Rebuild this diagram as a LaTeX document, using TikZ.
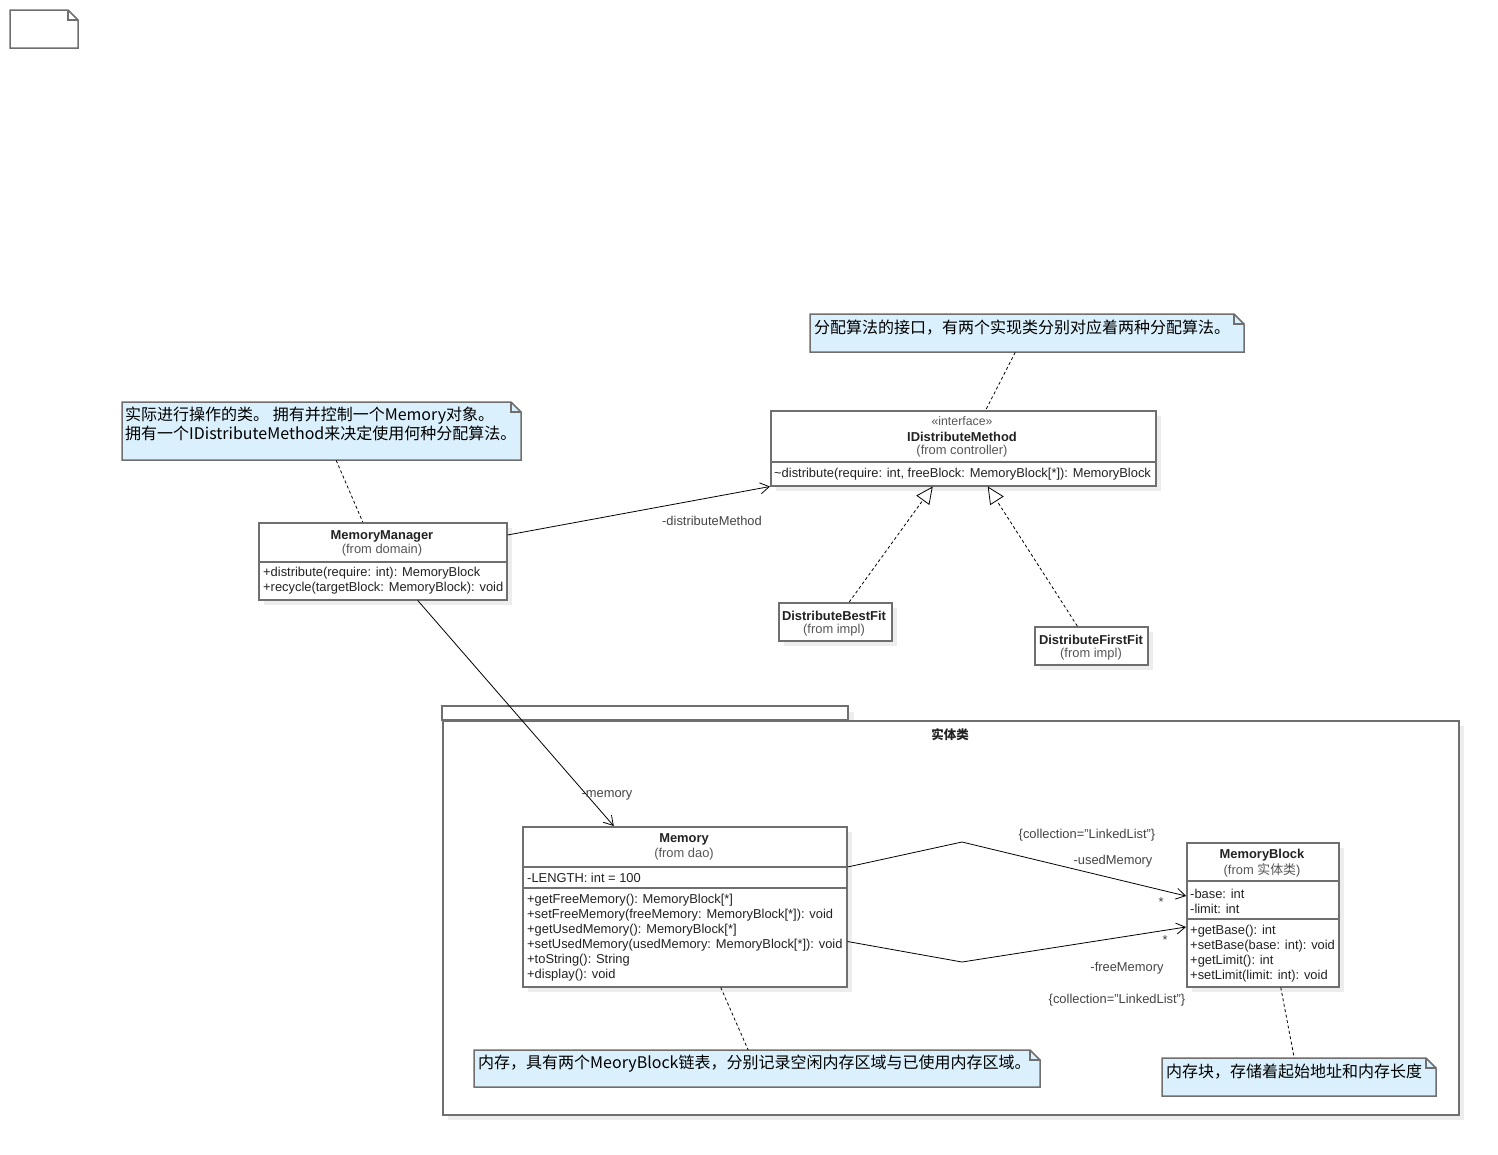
\documentclass[tikz,border=0pt]{standalone}
\usepackage{fontspec}
\setmainfont{Liberation Sans}
\newfontfamily\cjk{Noto Sans CJK SC}
\usetikzlibrary{arrows.meta}

\definecolor{edgegray}{HTML}{6F6F6F}
\definecolor{notefill}{HTML}{DAF0FC}
\definecolor{shadowgray}{HTML}{EDEDED}
\definecolor{txt}{HTML}{222222}
\definecolor{subtxt}{HTML}{555555}
\definecolor{lbl}{HTML}{444444}

\tikzset{
  box/.style={draw=edgegray, line width=1.5pt, fill=white, anchor=north west, inner sep=0pt},
  sep/.style={draw=edgegray, line width=1.5pt},
  noteline/.style={draw=edgegray, line width=1.5pt, line join=miter},
  t/.style={inner sep=0pt, yshift=-1.5pt, text=txt, font=\fontsize{12.9}{15}\selectfont},
  tl/.style={t, anchor=west},
  tname/.style={t, font=\fontsize{12.9}{15}\selectfont\bfseries},
  tsub/.style={t, text=subtxt},
  lab/.style={inner sep=0pt, yshift=-1.5pt, text=lbl, font=\fontsize{12.9}{15}\selectfont},
  ntext/.style={inner sep=0pt, yshift=-1pt, anchor=west, text=black, font=\cjk\fontsize{16}{17}\selectfont},
  assoc/.style={draw=black, line width=0.8pt, -{Straight Barb[length=9pt,width=11pt]}},
  real/.style={draw=black, line width=0.8pt, dash pattern=on 3pt off 2.5pt, -{Triangle[open,length=17pt,width=16pt,fill=white]}},
  anchorline/.style={draw=black, line width=0.8pt, dash pattern=on 3pt off 2.5pt},
}

% class box with drop shadow: name, x1, y1, x2, y2
\newcommand\classbox[5]{%
  \fill[shadowgray] ({#2+6},{#3+6}) rectangle ({#4+6},{#5+6});
  \node[box, minimum width={#4-#2}, minimum height={#5-#3}] (#1) at (#2,#3) {};
}
% note with folded corner: name, x1, y1, x2, y2, fill
\newcommand\notebox[6]{%
  \node[inner sep=0pt, anchor=north west, minimum width={#4-#2}, minimum height={#5-#3}] (#1) at (#2,#3) {};
  \draw[noteline, fill=#6] (#2,#3) -- ({#4-10},#3) -- (#4,{#3+10}) -- (#4,#5) -- (#2,#5) -- cycle;
  \draw[noteline] ({#4-10},#3) -- ({#4-10},{#3+10}) -- (#4,{#3+10});
}

\begin{document}
\begin{tikzpicture}[x=1pt, y=-1pt]
\useasboundingbox (0,0) rectangle (1498,1154);

% empty note in the corner
\notebox{blank}{10}{10}{78}{48}{white}

% ---- package "实体类"
\fill[shadowgray] (448,712) rectangle (854,726);
\fill[shadowgray] (448,726) rectangle (1464,1120);
\draw[sep, fill=white] (442,706) rectangle (848,720);
\node[box, minimum width=1016, minimum height=394] (pkg) at (442,720) {};
\node[t, font=\cjk\fontsize{12.5}{14}\selectfont\bfseries] (pkgname) at (950,733) {实体类};

% ---- notes
\notebox{n1}{122}{402}{521}{460}{notefill}
\node[ntext] (n1a) at (125,415) {实际进行操作的类。 拥有并控制一个Memory对象。};
\node[ntext] (n1b) at (125,432) {拥有一个IDistributeMethod来决定使用何种分配算法。};

\notebox{n2}{810}{314}{1244}{352}{notefill}
\node[ntext] (n2a) at (814,327) {分配算法的接口，有两个实现类分别对应着两种分配算法。};

\notebox{n3}{474}{1050}{1040}{1087}{notefill}
\node[ntext] (n3a) at (478,1063) {内存，具有两个MeoryBlock链表，分别记录空闲内存区域与已使用内存区域。};

\notebox{n4}{1162}{1058}{1436}{1096}{notefill}
\node[ntext] (n4a) at (1166,1071) {内存块，存储着起始地址和内存长度};

% ---- MemoryManager
\classbox{mm}{258}{522}{506}{599}
\draw[sep] (258,562) -- (506,562);
\node[tname] (mmname) at (382,535) {MemoryManager};
\node[tsub] (mmfrom) at (382,549) {(from domain)};
\node[tl] (mmo1) at (263,572) {+distribute(require: int): MemoryBlock};
\node[tl] (mmo2) at (263,587) {+recycle(targetBlock: MemoryBlock): void};

% ---- IDistributeMethod
\classbox{idm}{770}{410}{1155}{485}
\draw[sep] (770,462) -- (1155,462);
\node[tsub, font=\fontsize{12.3}{15}\selectfont] (idmst) at (962,420) {«interface»};
\node[tname] (idmname) at (962,435) {IDistributeMethod};
\node[tsub] (idmfrom) at (962,450) {(from controller)};
\node[tl] (idmo1) at (774,473) {\textasciitilde distribute(require: int, freeBlock: MemoryBlock[*]): MemoryBlock};

% ---- implementations
\classbox{bf}{778}{602}{891}{640}
\node[tname] (bfname) at (834,614) {DistributeBestFit};
\node[tsub] (bffrom) at (834,629) {(from impl)};

\classbox{ff}{1034}{626}{1147}{664}
\node[tname] (ffname) at (1091,638) {DistributeFirstFit};
\node[tsub] (fffrom) at (1091,653) {(from impl)};

% ---- Memory
\classbox{mem}{522}{826}{846}{986}
\draw[sep] (522,867) -- (846,867);
\draw[sep] (522,888) -- (846,888);
\node[tname] (memname) at (684,838) {Memory};
\node[tsub] (memfrom) at (684,853) {(from dao)};
\node[tl] (mema1) at (527,876) {-LENGTH: int = 100};
\node[tl] (memo1) at (527,899) {+getFreeMemory(): MemoryBlock[*]};
\node[tl] (memo2) at (527,914) {+setFreeMemory(freeMemory: MemoryBlock[*]): void};
\node[tl] (memo3) at (527,929) {+getUsedMemory(): MemoryBlock[*]};
\node[tl] (memo4) at (527,944) {+setUsedMemory(usedMemory: MemoryBlock[*]): void};
\node[tl] (memo5) at (527,959) {+toString(): String};
\node[tl] (memo6) at (527,974) {+display(): void};

% ---- MemoryBlock
\classbox{mb}{1186}{842}{1338}{986}
\draw[sep] (1186,881) -- (1338,881);
\draw[sep] (1186,919) -- (1338,919);
\node[tname] (mbname) at (1262,854) {MemoryBlock};
\node[tsub] (mbfrom) at (1262,869) {(from {\cjk 实体类})};
\node[tl] (mba1) at (1190,892) {-base: int};
\node[tl] (mba2) at (1190,907) {-limit: int};
\node[tl] (mbo1) at (1190,930) {+getBase(): int};
\node[tl] (mbo2) at (1190,945) {+setBase(base: int): void};
\node[tl] (mbo3) at (1190,960) {+getLimit(): int};
\node[tl] (mbo4) at (1190,975) {+setLimit(limit: int): void};

% ---- note anchors
\draw[anchorline] ([xshift=14.5pt]n1.south) -- ([xshift=-20pt]mm.north);
\draw[anchorline] ([xshift=-12pt]n2.south) -- ([xshift=22.5pt]idm.north);
\draw[anchorline] ([xshift=36pt]mem.south) -- ([xshift=-9pt]n3.north);
\draw[anchorline] ([xshift=18pt]mb.south) -- ([xshift=-5pt]n4.north);

% ---- realizations
\draw[real] ([xshift=14pt]bf.north) -- ([xshift=-30.5pt]idm.south);
\draw[real] ([xshift=-14pt]ff.north) -- ([xshift=24.5pt]idm.south);

% ---- associations
\draw[assoc] ([yshift=-13pt]mm.north east) -- (idm.south west);
\node[lab] (ldm) at (712,519) {-distributeMethod};

\draw[assoc] ([xshift=35pt]mm.south) -- ([xshift=-71pt]mem.north);
\node[lab] (lmem) at (607,794) {-memory};

\coordinate (ubend) at (962,842);
\coordinate (fbend) at (962,962);
\draw[assoc] ([yshift=-41pt]mem.north east) -- (ubend) -- ([yshift=-54pt]mb.north west);
\node[lab] (lu1) at (1087,834) {\{collection="LinkedList"\}};
\node[lab] (lu2) at (1113,860) {-usedMemory};
\node[lab] (lu3) at (1161,901) {*};

\draw[assoc] ([yshift=46pt]mem.south east) -- (fbend) -- ([yshift=-85pt]mb.north west);
\node[lab] (lf3) at (1165,939) {*};
\node[lab] (lf2) at (1127,967) {-freeMemory};
\node[lab] (lf1) at (1117,999) {\{collection="LinkedList"\}};
\end{tikzpicture}
\end{document}
